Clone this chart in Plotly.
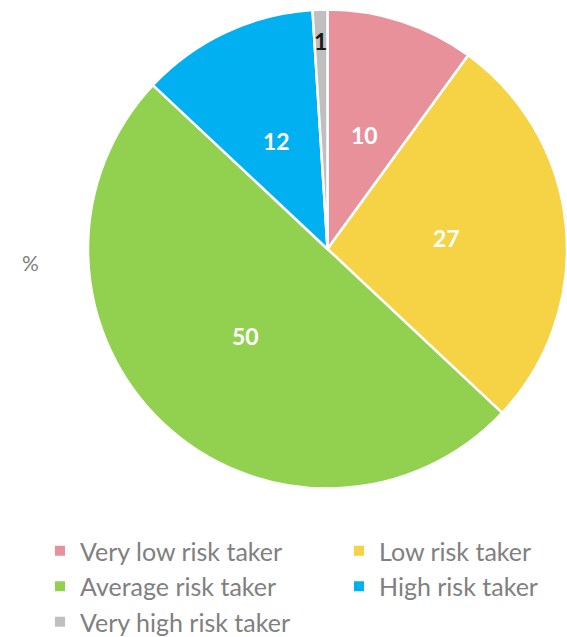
import math
import plotly.graph_objects as go

categories = ["Very low risk taker", "Low risk taker", "Average risk taker",
              "High risk taker", "Very high risk taker"]
values = [10, 27, 50, 12, 1]
label_text = ["10", "27", "50", "12", "1"]
colors = ["#E8919A", "#F6D344", "#92D050", "#00B0F0", "#BFBFBF"]
label_colors = ["white", "white", "white", "white", "#1a1a1a"]
label_radius = [0.5, 0.5, 0.5, 0.5, 0.87]
legend_column = ["legend", "legend2", "legend", "legend2", "legend"]

W, H = 567, 637
left = 88
R = (W - left) / 2
cx, cy = left + R, 249

fig = go.Figure(go.Pie(
    labels=categories, values=values, sort=False, direction="clockwise",
    rotation=0, textinfo="none", hoverinfo="label+value", showlegend=False,
    marker=dict(colors=colors, line=dict(color="white", width=2.5)),
    domain=dict(x=[left / W, 1.0], y=[1 - (cy + R) / H, 1 - (cy - R) / H]),
))

# legend entries (two columns, as in the original)
for name, col, lg in zip(categories, colors, legend_column):
    fig.add_trace(go.Scatter(x=[None], y=[None], mode="markers", name=name,
                             marker=dict(symbol="square", size=10, color=col),
                             legend=lg, hoverinfo="skip"))

total = sum(values)
cum = 0
annotations = []
for v, t, c, rf in zip(values, label_text, label_colors, label_radius):
    mid = (cum + v / 2) / total * 2 * math.pi
    cum += v
    px = cx + rf * R * math.sin(mid)
    py = cy - rf * R * math.cos(mid)
    annotations.append(dict(x=px / W, y=1 - py / H, xref="paper", yref="paper",
                            xanchor="center", yanchor="middle",
                            text=f"<b>{t}</b>", showarrow=False,
                            font=dict(family="Lato", size=23, color=c)))
annotations.append(dict(x=30 / W, y=1 - 262 / H, xref="paper", yref="paper", text="%",
                        xanchor="center", yanchor="middle",
                        showarrow=False, font=dict(family="Lato", size=21, color="#808080")))

legend_font = dict(family="Lato", size=25, color="#808080")
fig.update_layout(
    width=W, height=H, margin=dict(l=0, r=0, t=0, b=0, autoexpand=False),
    paper_bgcolor="white", plot_bgcolor="white",
    xaxis=dict(visible=False), yaxis=dict(visible=False),
    annotations=annotations,
    legend=dict(x=40 / W, xanchor="left", y=1 - 528 / H, yanchor="top",
                traceorder="normal", font=legend_font, itemclick=False,
                bgcolor="rgba(0,0,0,0)"),
    legend2=dict(x=339 / W, xanchor="left", y=1 - 528 / H, yanchor="top",
                 traceorder="normal", font=legend_font, itemclick=False,
                 bgcolor="rgba(0,0,0,0)"),
)

fig.write_html("out.html")
